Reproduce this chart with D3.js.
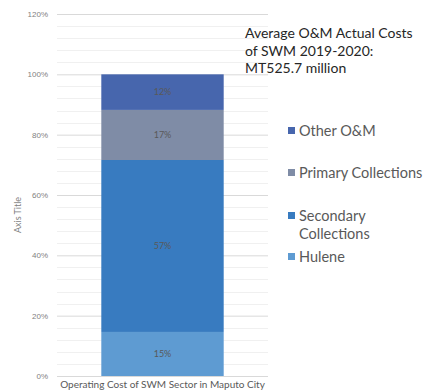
<!DOCTYPE html>
<html>
<head>
<meta charset="utf-8">
<script src="https://cdn.jsdelivr.net/npm/d3@7/dist/d3.min.js"></script>
<style>
  html, body { margin: 0; padding: 0; background: #fff; }
  svg { display: block; font-family: Lato, "Open Sans", sans-serif; }
</style>
</head>
<body>
<svg id="chart" width="423" height="392"></svg>
<script>
// Cost shares of the SWM sector, stacked bottom to top
const category = "Operating Cost of SWM Sector in Maputo City";
const seriesNames = ["Hulene", "Secondary Collections", "Primary Collections", "Other O&M"];
const seriesValues = [0.146, 0.570, 0.166, 0.118];
const seriesColors = ["#5e9bd2", "#387bc0", "#7f8ca6", "#4766ad"];
const legendOrder = ["Other O&M", "Primary Collections", "Secondary Collections", "Hulene"];
const legendLines = { "Secondary Collections": ["Secondary", "Collections"] };
const yTicks = [0, 0.2, 0.4, 0.6, 0.8, 1.0, 1.2];
const titleLines = ["Average O&M Actual Costs", "of SWM 2019-2020:", "MT525.7 million"];

const svg = d3.select("#chart");
const plot = { left: 57, right: 268, top: 14, bottom: 376 };

const y = d3.scaleLinear().domain([0, 1.2]).range([plot.bottom, plot.top]);
const x = d3.scaleBand().domain([category]).range([plot.left, plot.right]).paddingInner(0.42).paddingOuter(0.21);

// Minor gridlines every 4 %
svg.append("g").selectAll("line")
  .data(d3.range(0, 1.2001, 0.04).filter(v => Math.round(v * 100) % 20 !== 0))
  .join("line")
  .attr("x1", plot.left).attr("x2", plot.right)
  .attr("y1", d => Math.round(y(d)) + 0.5).attr("y2", d => Math.round(y(d)) + 0.5)
  .attr("stroke", "#f0f0f0").attr("stroke-width", 1);

// Major gridlines and tick labels
const yAxis = d3.axisLeft(y).tickValues(yTicks).tickFormat(d3.format(".0%"))
  .tickSize(-(plot.right - plot.left)).tickPadding(9);
const gy = svg.append("g").attr("transform", `translate(${plot.left},0)`).call(yAxis);
gy.select(".domain").remove();
gy.selectAll(".tick line").attr("stroke", "#d9d9d9");
gy.selectAll(".tick text").attr("fill", "#7f7f7f").style("font-size", "8px");

// Stacked segments
const stacked = [];
let acc = 0;
seriesValues.forEach((v, i) => { stacked.push({ name: seriesNames[i], y0: acc, y1: acc + v, v, color: seriesColors[i] }); acc += v; });

svg.append("g").selectAll("rect").data(stacked).join("rect")
  .attr("x", x(category)).attr("width", x.bandwidth())
  .attr("y", d => y(d.y1)).attr("height", d => y(d.y0) - y(d.y1))
  .attr("fill", d => d.color);

svg.append("g").selectAll("text").data(stacked).join("text")
  .attr("x", x(category) + x.bandwidth() / 2)
  .attr("y", d => (y(d.y0) + y(d.y1)) / 2)
  .attr("dy", "0.35em").attr("text-anchor", "middle")
  .attr("fill", "#595959").style("font-size", "9px")
  .text(d => d3.format(".0%")(d.v));

// Category label
svg.append("text")
  .attr("x", x(category) + x.bandwidth() / 2).attr("y", 388)
  .attr("text-anchor", "middle").attr("fill", "#595959").style("font-size", "10px")
  .text(category);

// Axis title
svg.append("text")
  .attr("transform", `translate(21,${(plot.top + plot.bottom) / 2 + 20}) rotate(-90)`)
  .attr("text-anchor", "middle").attr("fill", "#7f7f7f").style("font-size", "9px")
  .text("Axis Title");

// Chart title
svg.append("g").selectAll("text").data(titleLines).join("text")
  .attr("x", 245).attr("y", (d, i) => 38 + i * 17.5)
  .attr("fill", "#262626").style("font-size", "14px")
  .text(d => d);

// Legend
const legendY = { "Other O&M": 131, "Primary Collections": 173, "Secondary Collections": 216, "Hulene": 257 };
const colorOf = Object.fromEntries(seriesNames.map((n, i) => [n, seriesColors[i]]));
const lg = svg.append("g");
legendOrder.forEach(name => {
  lg.append("rect").attr("x", 288).attr("y", legendY[name] - 4).attr("width", 7).attr("height", 7)
    .attr("fill", colorOf[name]);
  const lines = legendLines[name] || [name];
  lines.forEach((t, i) => {
    lg.append("text").attr("x", 299).attr("y", legendY[name] + i * 17.5).attr("dy", "0.35em")
      .attr("fill", "#595959").style("font-size", "14.5px").text(t);
  });
});
</script>
</body>
</html>
